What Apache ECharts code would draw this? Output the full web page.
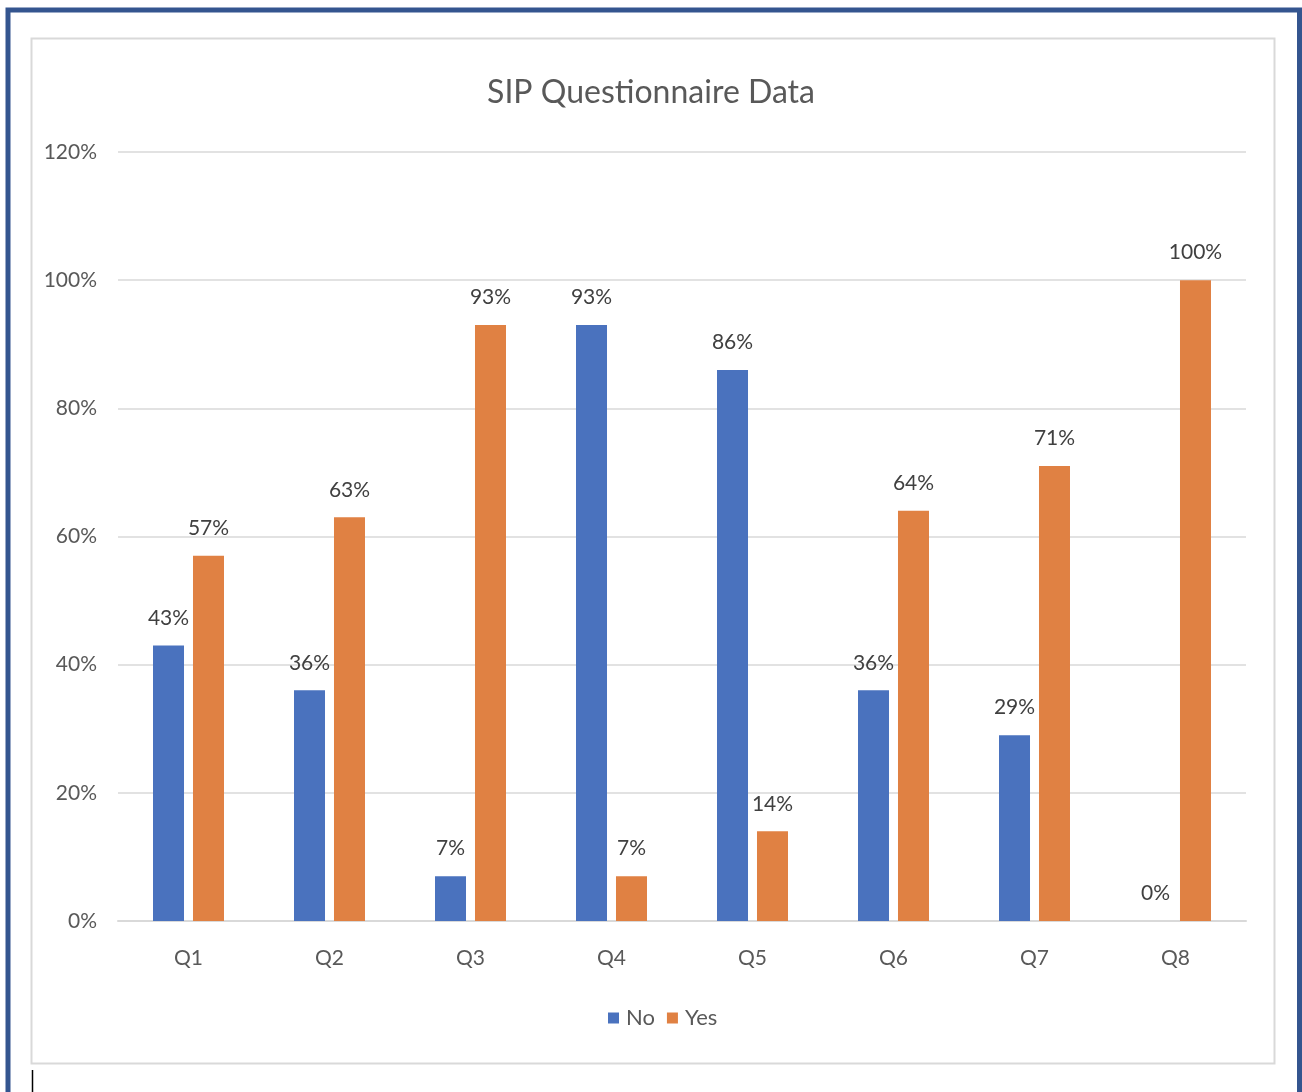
<!DOCTYPE html>
<html>
<head>
<meta charset="utf-8">
<script src="https://cdn.jsdelivr.net/npm/echarts@6/dist/echarts.min.js"></script>
<style>
html,body{margin:0;padding:0;background:#fff;}
#chart{width:1302px;height:1092px;}
</style>
</head>
<body>
<div id="chart"></div>
<script>
const categories = ['Q1','Q2','Q3','Q4','Q5','Q6','Q7','Q8'];
const noValues = [43, 36, 7, 93, 86, 36, 29, 0];
const yesValues = [57, 63, 93, 7, 14, 64, 71, 100];
const seriesNames = ['No','Yes'];
const yTicks = {min: 0, max: 120, interval: 20};

const FONT = 'Lato';
const chart = echarts.init(document.getElementById('chart'));
chart.setOption({
  animation: false,
  backgroundColor: '#ffffff',
  title: {
    text: 'SIP Questionnaire Data',
    left: 'center',
    top: 72,
    textStyle: {fontFamily: FONT, fontSize: 32, fontWeight: 'normal', color: '#595959'}
  },
  legend: {
    data: seriesNames,
    bottom: 58,
    left: 603,
    itemWidth: 11,
    itemHeight: 11,
    itemGap: 12,
    icon: 'rect',
    textStyle: {fontFamily: FONT, fontSize: 22, color: '#595959', padding: [0,0,0,2]}
  },
  grid: {left: 118, right: 56, top: 152, bottom: 171, containLabel: false},
  xAxis: {
    type: 'category',
    data: categories,
    axisLine: {lineStyle: {color: '#d9d9d9', width: 2}},
    axisTick: {show: false},
    axisLabel: {fontFamily: FONT, fontSize: 21, color: '#595959', margin: 27}
  },
  yAxis: {
    type: 'value',
    min: yTicks.min, max: yTicks.max, interval: yTicks.interval,
    axisLine: {show: false},
    axisTick: {show: false},
    splitLine: {lineStyle: {color: '#d9d9d9', width: 1.5}},
    axisLabel: {fontFamily: FONT, fontSize: 21, color: '#595959', margin: 21, formatter: '{value}%'}
  },
  series: [
    {
      name: 'No', type: 'bar', data: noValues,
      barWidth: 31, barGap: '29%',
      itemStyle: {color: '#4A72BE'},
      label: {show: true, position: 'top', distance: 17, formatter: '{c}%', fontFamily: FONT, fontSize: 21, color: '#404040'}
    },
    {
      name: 'Yes', type: 'bar', data: yesValues,
      barWidth: 31,
      itemStyle: {color: '#E08143'},
      label: {show: true, position: 'top', distance: 17, formatter: '{c}%', fontFamily: FONT, fontSize: 21, color: '#404040'}
    }
  ],
  graphic: [
    {type: 'rect', z: -10, silent: true, shape: {x: 8, y: 10, width: 1291.5, height: 1100}, style: {fill: 'none', stroke: '#34558F', lineWidth: 5}},
    {type: 'rect', z: -10, silent: true, shape: {x: 31.5, y: 38.5, width: 1243, height: 1025}, style: {fill: 'none', stroke: '#d9d9d9', lineWidth: 2}},
    {type: 'line', z: 10, silent: true, shape: {x1: 32.5, y1: 1070, x2: 32.5, y2: 1092}, style: {stroke: '#000', lineWidth: 1.5}}
  ]
});
</script>
</body>
</html>
